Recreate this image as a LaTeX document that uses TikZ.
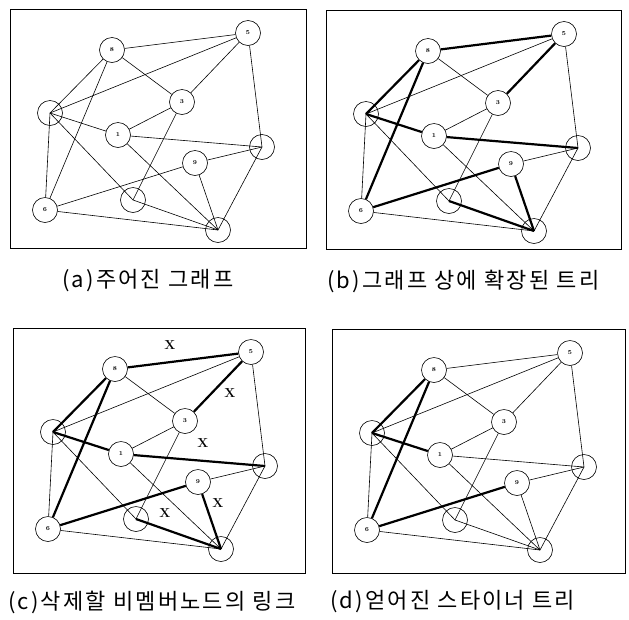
\documentclass[tikz,border=0pt]{standalone}
\usepackage{fontspec}
\newfontfamily\kofont[LetterSpace=10]{Noto Sans CJK KR}
\usetikzlibrary{positioning}

\tikzset{
  vnode/.style={circle, draw, line width=0.6pt, minimum size=25pt, inner sep=0pt,
    font=\fontsize{6}{6}\selectfont\bfseries},
  thinedge/.style={line width=0.6pt},
  treeedge/.style={line width=2.2pt},
  panelbox/.style={line width=0.8pt},
  caption/.style={anchor=west, inner sep=0pt, font=\kofont\fontsize{22}{24}\selectfont},
  cutmark/.style={font=\bfseries\fontsize{13}{13}\selectfont}
}

% nodes and links of the given graph
\newcommand{\graphnodes}{
  \node[vnode] (n1) at (102,41) {8};
  \node[vnode] (n2) at (238,24) {5};
  \node[vnode] (n3) at (172,93) {3};
  \node[vnode] (n4) at (40,104) {};
  \node[vnode] (n5) at (108,126) {1};
  \node[vnode] (n6) at (252,138) {};
  \node[vnode] (n7) at (185,154) {9};
  \node[vnode] (n8) at (35,201) {6};
  \node[vnode] (n9) at (123,191) {};
  \node[vnode] (n10) at (208,221) {};
  \foreach \a/\b in {n1/n2, n1/n3, n1/n4.center, n1/n8, n2/n4.center, n2/n3,
      n2/n6.center, n5/n4.center, n8/n4.center, n4.center/n9.center, n3/n5,
      n3/n9.center, n5/n6.center, n5/n10.center, n7/n6.center, n7/n8,
      n7/n10.center, n8/n10.center, n9.center/n10.center, n6.center/n10.center}
    \draw[thinedge] (\a) -- (\b);
}

\begin{document}
\begin{tikzpicture}[x=1pt, y=-1pt]
  \useasboundingbox (0,0) rectangle (629,619);

  % (a)
  \begin{scope}[shift={(10,9)}]
    \draw[panelbox] (0,0) rectangle (296,239);
    \graphnodes
  \end{scope}
  \node[caption] (capa) at (62,281) {(a)주어진 그래프};

  % (b)
  \begin{scope}[shift={(326,10)}]
    \draw[panelbox] (0,0) rectangle (295,239);
    \graphnodes
    \foreach \a/\b in {n1/n2, n1/n4.center, n1/n8, n2/n3, n5/n4.center,
        n5/n6.center, n7/n8, n7/n10.center, n9.center/n10.center}
      \draw[treeedge] (\a) -- (\b);
  \end{scope}
  \node[caption] (capb) at (327,281) {(b)그래프 상에 확장된 트리};

  % (c)
  \begin{scope}[shift={(13,328)}]
    \draw[panelbox] (0,0) rectangle (292,245);
    \graphnodes
    \foreach \a/\b in {n1/n2, n1/n4.center, n1/n8, n2/n3, n5/n4.center,
        n5/n6.center, n7/n8, n7/n10.center, n9.center/n10.center}
      \draw[treeedge] (\a) -- (\b);
    \node[cutmark] (x1) at (157,17) {X};
    \node[cutmark] (x2) at (217,65) {X};
    \node[cutmark] (x3) at (190,115) {X};
    \node[cutmark] (x4) at (205,175) {X};
    \node[cutmark] (x5) at (152,185) {X};
  \end{scope}
  \node[caption] (capc) at (8,602) {(c)삭제할 비멤버노드의 링크};

  % (d)
  \begin{scope}[shift={(332,329)}]
    \draw[panelbox] (0,0) rectangle (293,244);
    \graphnodes
    \foreach \a/\b in {n1/n4.center, n1/n8, n5/n4.center, n7/n8}
      \draw[treeedge] (\a) -- (\b);
  \end{scope}
  \node[caption] (capd) at (330,602) {(d)얻어진 스타이너 트리};
\end{tikzpicture}
\end{document}
